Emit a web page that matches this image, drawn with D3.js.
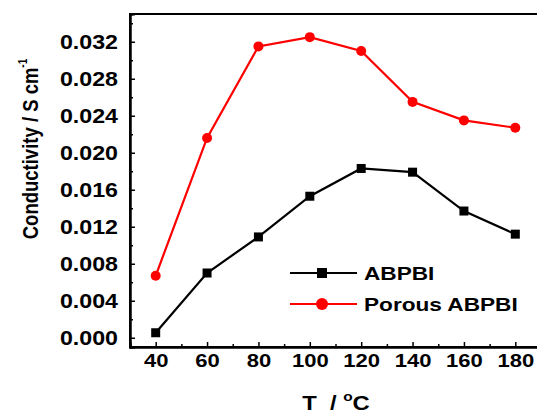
<!DOCTYPE html>
<html>
<head>
<meta charset="utf-8">
<script src="https://cdn.jsdelivr.net/npm/d3@7"></script>
<style>
  html, body { margin: 0; padding: 0; background: #fff; }
  svg { display: block; }
  text { font-family: "Liberation Sans", Arial, sans-serif; font-weight: bold; fill: #000; }
</style>
</head>
<body>
<svg id="chart" width="537" height="415"></svg>
<script>
// ---- data ----
const temperatures = [40, 60, 80, 100, 120, 140, 160, 180];
const abpbiValues = [0.00054, 0.0070, 0.0109, 0.0153, 0.0183, 0.0179, 0.0137, 0.0112];
const porousValues = [0.0067, 0.0216, 0.0315, 0.0325, 0.0310, 0.0255, 0.0235, 0.0227];
const seriesNames = ["ABPBI", "Porous ABPBI"];
const xTicks = [40, 60, 80, 100, 120, 140, 160, 180];
const xMinorTicks = [50, 70, 90, 110, 130, 150, 170];
const yTicks = [0, 0.004, 0.008, 0.012, 0.016, 0.020, 0.024, 0.028, 0.032];
const yMinorTicks = [0.002, 0.006, 0.010, 0.014, 0.018, 0.022, 0.026, 0.030, 0.034];

(function () {
const svg = d3.select("#chart");
const mL = 130, mR = 541, mT = 14, mB = 347;
const SX = 1.19; // horizontal stretch of the original figure's lettering
const x = d3.scaleLinear().domain([30, 190]).range([mL, mR]);
const y = d3.scaleLinear().domain([-0.001, 0.035]).range([mB, mT]);

function stretch(sel, f) {
  sel.each(function () {
    const w = this.getComputedTextLength();
    this.setAttribute("textLength", w * f);
    this.setAttribute("lengthAdjust", "spacingAndGlyphs");
  });
}

// frame
svg.append("rect").attr("x", mL).attr("y", mT)
  .attr("width", mR - mL).attr("height", mB - mT)
  .attr("fill", "none").attr("stroke", "#000").attr("stroke-width", 2);

// x axis
const gx = svg.append("g").attr("transform", `translate(0,${mB})`)
  .call(d3.axisBottom(x).tickValues(xTicks).tickSize(-5).tickPadding(7).tickFormat(d3.format("d")));
svg.append("g").attr("transform", `translate(0,${mB})`)
  .call(d3.axisBottom(x).tickValues(xMinorTicks).tickSize(-3).tickFormat(""));
// y axis
const gy = svg.append("g").attr("transform", `translate(${mL},0)`)
  .call(d3.axisLeft(y).tickValues(yTicks).tickSize(-5).tickPadding(12).tickFormat(d3.format(".3f")));
svg.append("g").attr("transform", `translate(${mL},0)`)
  .call(d3.axisLeft(y).tickValues(yMinorTicks).tickSize(-3).tickFormat(""));

svg.selectAll(".domain").attr("stroke", "#000").attr("stroke-width", 2);
svg.selectAll(".tick line").attr("stroke", "#000").attr("stroke-width", 1.5);
gx.selectAll("text").attr("font-size", 18.5).attr("font-family", "Liberation Sans, Arial, sans-serif").attr("font-weight", "bold").attr("fill", "#000");
gy.selectAll("text").attr("font-size", 19.5).attr("font-family", "Liberation Sans, Arial, sans-serif").attr("font-weight", "bold").attr("fill", "#000");
stretch(gy.selectAll("text"), SX);
stretch(gx.selectAll("text"), SX);

// lines
const series = [
  { name: seriesNames[0], values: abpbiValues, color: "#000000", shape: "square" },
  { name: seriesNames[1], values: porousValues, color: "#ff0000", shape: "circle" }
];
const line = d3.line().x((d, i) => x(temperatures[i])).y(d => y(d));
series.forEach(s => {
  svg.append("path").datum(s.values).attr("d", line)
    .attr("fill", "none").attr("stroke", s.color).attr("stroke-width", 2.2);
  const g = svg.append("g");
  if (s.shape === "square") {
    g.selectAll("rect").data(s.values).join("rect")
      .attr("x", (d, i) => x(temperatures[i]) - 4.5).attr("y", d => y(d) - 4.5)
      .attr("width", 9).attr("height", 9).attr("fill", s.color);
  } else {
    g.selectAll("circle").data(s.values).join("circle")
      .attr("cx", (d, i) => x(temperatures[i])).attr("cy", d => y(d))
      .attr("r", 5).attr("fill", s.color);
  }
});

// legend
const legendRows = [273, 304];
series.forEach((s, i) => {
  const ly = legendRows[i];
  svg.append("line").attr("x1", 290).attr("x2", 357).attr("y1", ly).attr("y2", ly)
    .attr("stroke", s.color).attr("stroke-width", 2.2);
  if (s.shape === "square") {
    svg.append("rect").attr("x", 322 - 5).attr("y", ly - 5).attr("width", 10).attr("height", 10).attr("fill", s.color);
  } else {
    svg.append("circle").attr("cx", 322).attr("cy", ly).attr("r", 6).attr("fill", s.color);
  }
  const t = svg.append("text").attr("x", 364).attr("y", ly + 7).attr("font-size", 19).text(s.name);
  stretch(t, SX);
});

// axis titles
const xt = svg.append("text").attr("transform", `translate(336,410) scale(${SX},1)`)
  .attr("text-anchor", "middle").attr("font-size", 20);
xt.append("tspan").text("T\u00a0\u00a0/\u00a0");
xt.append("tspan").attr("font-size", 13).attr("dy", -9).text("o");
xt.append("tspan").attr("dy", 9).text("C");

const yt = svg.append("text").attr("transform", `translate(38,149) scale(${SX},1) rotate(-90)`)
  .attr("text-anchor", "middle").attr("font-size", 18.5);
yt.append("tspan").text("Conductivity / S cm");
yt.append("tspan").attr("font-size", 10).attr("dy", -9).text("-1");
})();
</script>
</body>
</html>
